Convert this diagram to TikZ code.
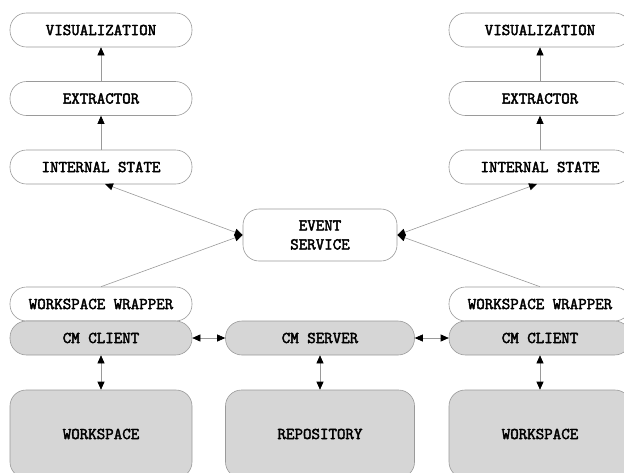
\documentclass[tikz,border=0pt]{standalone}
\usepackage{fontspec}
\newfontfamily\boxfont[FakeBold=2.6]{Latin Modern Mono}
\usetikzlibrary{arrows.meta}
\definecolor{edgegray}{HTML}{9A9A9A}
\definecolor{boxfill}{HTML}{D6D6D6}
\tikzset{
  base/.style={draw=edgegray, line width=0.6pt, inner sep=0pt, align=center,
    font=\fontsize{16.5}{19}\selectfont\boxfont},
  pill/.style={base, fill=white, rounded corners=16.5pt, minimum width=182pt, minimum height=34pt},
  greypill/.style={pill, fill=boxfill},
  bigbox/.style={base, fill=boxfill, rounded corners=16pt, minimum width=182pt, minimum height=88pt},
  eventbox/.style={base, fill=white, rounded corners=16pt, minimum width=154pt, minimum height=52pt},
  conn/.style={draw=edgegray, line width=0.6pt},
  tip/.style={conn, -{Triangle[length=8pt,width=7pt,color=black]}},
  bitip/.style={conn, {Triangle[length=8pt,width=7pt,color=black]}-{Triangle[length=8pt,width=7pt,color=black]}},
}
\begin{document}
\begin{tikzpicture}[x=1pt,y=-1pt]
\useasboundingbox (0,0) rectangle (624,472);
\clip (0,0) rectangle (624,472);
% left column
\node[pill] (visL) at (101,30) {VISUALIZATION};
\node[pill] (extL) at (101,98.5) {EXTRACTOR};
\node[pill] (intL) at (101,167) {INTERNAL STATE};
\node[pill] (wrapL) at (101,304) {WORKSPACE WRAPPER};
\node[greypill] (cliL) at (101,338) {CM CLIENT};
\node[bigbox] (wsL) at (101,434) {WORKSPACE};
% right column
\node[pill] (visR) at (540,30) {VISUALIZATION};
\node[pill] (extR) at (540,98.5) {EXTRACTOR};
\node[pill] (intR) at (540,167) {INTERNAL STATE};
\node[pill] (wrapR) at (540,304) {WORKSPACE WRAPPER};
\node[greypill] (cliR) at (540,338) {CM CLIENT};
\node[bigbox] (wsR) at (540,434) {WORKSPACE};
% centre
\node[eventbox] (ev) at (320,235) {EVENT\\SERVICE};
\node[greypill, minimum width=189pt] (srv) at (320,338) {CM SERVER};
\node[bigbox, minimum width=189pt] (repo) at (320,434) {REPOSITORY};
% vertical connectors
\draw[tip] (extL) -- (visL);
\draw[tip] (intL) -- (extL);
\draw[tip] (extR) -- (visR);
\draw[tip] (intR) -- (extR);
\draw[bitip] (cliL) -- (wsL);
\draw[bitip] (cliR) -- (wsR);
\draw[bitip] (srv) -- (repo);
% horizontal connectors
\draw[bitip] (cliL) -- (srv);
\draw[bitip] (srv) -- (cliR);
% event service connectors
\draw[bitip] (105,184) coordinate (aL) -- (ev.west);
\draw[tip] (wrapL.north) -- (ev.west);
\draw[bitip] (537,184) coordinate (aR) -- (ev.east);
\draw[tip] (wrapR.north) -- (ev.east);
\end{tikzpicture}
\end{document}
